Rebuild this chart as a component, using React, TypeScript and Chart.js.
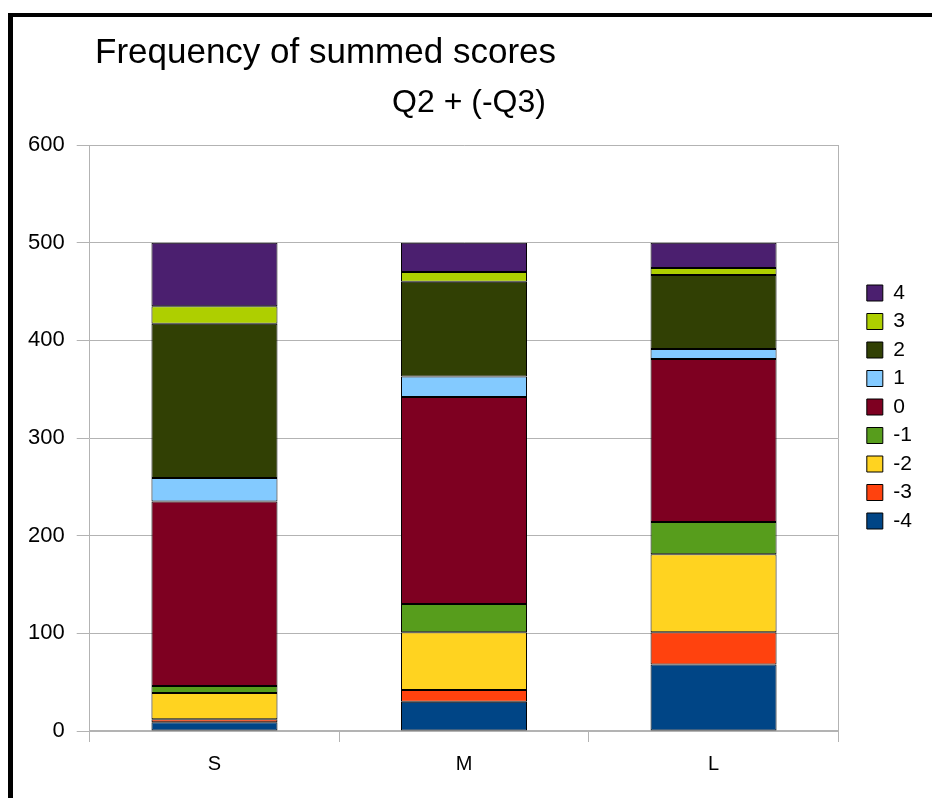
import React, { useEffect, useRef } from 'react';
import { Chart, registerables } from 'chart.js';

Chart.register(...registerables);
Chart.defaults.font.family = '"Liberation Sans", Arial, sans-serif';

const TITLE = 'Frequency of summed scores';
const SUBTITLE = 'Q2 + (-Q3)';
const categories = ['S', 'M', 'L'];

const seriesNames = ['-4', '-3', '-2', '-1', '0', '1', '2', '3', '4'];
const scoreMinus4 = [9, 30, 68];
const scoreMinus3 = [3, 12, 33];
const scoreMinus2 = [27, 59, 80];
const scoreMinus1 = [7, 29, 33];
const score0 = [189, 212, 167];
const score1 = [24, 21, 10];
const score2 = [158, 97, 76];
const score3 = [18, 10, 7];
const score4 = [65, 30, 26];
const seriesColors = ['#004586', '#ff420e', '#ffd320', '#579d1c', '#7e0021', '#83caff', '#314004', '#aecf00', '#4b1f6f'];

const yMin = 0;
const yMax = 600;
const yStep = 100;

const GRID = '#b3b3b3';
const TITLE_X = 95;
const LEGEND_TOP = 275;

const placeBoxes = {
  id: 'placeBoxes',
  afterLayout(chart: any) {
    if (chart.titleBlock) {
      chart.titleBlock.left = TITLE_X;
    }
    if (chart.legend) {
      chart.legend.top = LEGEND_TOP;
      chart.legend.bottom = chart.height;
    }
  },
};

export default function App() {
  const ref = useRef<HTMLCanvasElement | null>(null);

  useEffect(() => {
    if (!ref.current) return;
    const values = [scoreMinus4, scoreMinus3, scoreMinus2, scoreMinus1, score0, score1, score2, score3, score4];
    const chart = new Chart(ref.current, {
      type: 'bar',
      data: {
        labels: categories,
        datasets: seriesNames.map((name, i) => ({
          label: name,
          data: values[i],
          backgroundColor: seriesColors[i],
          borderColor: '#000000',
          borderWidth: 1,
          borderSkipped: false,
          barPercentage: 0.505,
          categoryPercentage: 1,
        })),
      },
      options: {
        responsive: false,
        animation: false,
        devicePixelRatio: 1,
        layout: { padding: { left: 16, right: 10, top: 10, bottom: 12 } },
        plugins: {
          title: {
            display: true,
            text: TITLE,
            align: 'start',
            color: '#000',
            font: { size: 35, weight: 'normal' },
            padding: { top: 22, bottom: 0 },
          },
          subtitle: {
            display: true,
            text: SUBTITLE,
            align: 'center',
            color: '#000',
            font: { size: 32, weight: 'normal' },
            padding: { top: 10, bottom: 22.6 },
          },
          legend: {
            position: 'right',
            align: 'start',
            reverse: true,
            labels: {
              boxWidth: 16,
              boxHeight: 16,
              padding: 7.5,
              color: '#000',
              font: { size: 21 },
            },
          },
          tooltip: { enabled: false },
        },
        scales: {
          x: {
            stacked: true,
            offset: true,
            grid: { display: true, drawOnChartArea: false, drawTicks: true, tickLength: 11, color: GRID, offset: true },
            border: { display: true, color: GRID, width: 2 },
            ticks: { color: '#000', font: { size: 20 }, padding: 10 },
          },
          y: {
            stacked: true,
            min: yMin,
            max: yMax,
            ticks: { stepSize: yStep, color: '#000', font: { size: 22 }, padding: 12 },
            grid: { color: GRID, tickLength: 13 },
            border: { display: true, color: GRID },
          },
          yRight: {
            position: 'right',
            display: true,
            grid: { display: false },
            ticks: { display: false },
            border: { display: true, color: GRID },
            afterFit: (s: any) => {
              s.width = 21;
            },
          },
        },
      },
      plugins: [placeBoxes],
    } as any);
    return () => chart.destroy();
  }, []);

  return (
    <div style={{ position: 'fixed', inset: 0, overflow: 'hidden', background: '#fff' }}>
      <div
        style={{
          position: 'absolute',
          left: 8,
          top: 13,
          width: 2000,
          height: 2000,
          borderLeft: '5px solid #000',
          borderTop: '4px solid #000',
        }}
      />
      <canvas
        ref={ref}
        width={932}
        height={798}
        style={{ position: 'absolute', left: 0, top: 0, width: 932, height: 798 }}
      />
    </div>
  );
}
